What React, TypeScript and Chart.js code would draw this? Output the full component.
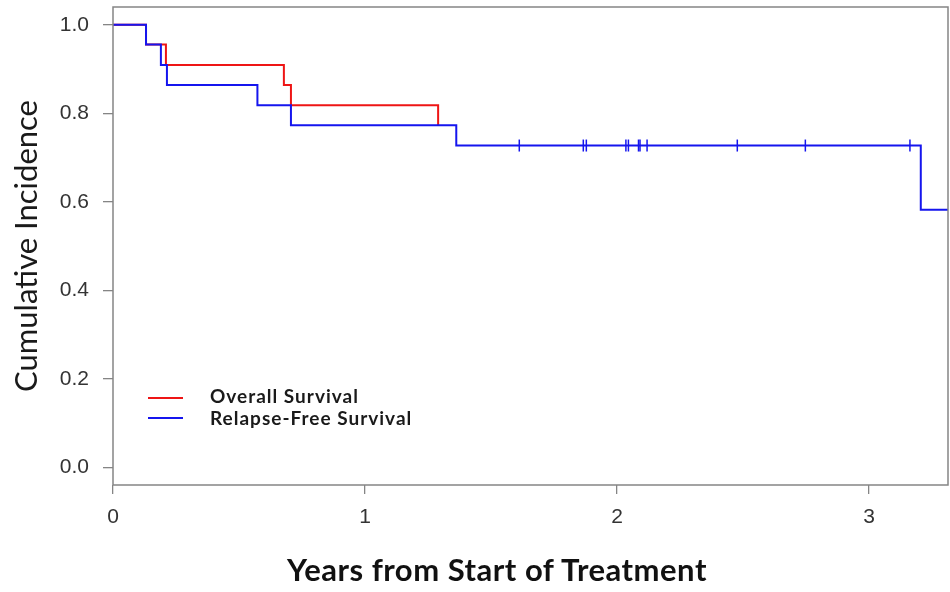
import React, { useEffect, useRef } from "react";
import { Chart, registerables } from "chart.js";

Chart.register(...registerables);

// Kaplan–Meier step points (years, survival)
const rfsTimes = [0, 0.131, 0.19, 0.214, 0.573, 0.706, 1.362, 3.205, 3.5];
const rfsValues = [1.0, 0.955, 0.909, 0.864, 0.818, 0.773, 0.727, 0.582, 0.582];

const osTimes = [0, 0.131, 0.21, 0.678, 0.706, 1.29];
const osValues = [1.0, 0.955, 0.909, 0.864, 0.818, 0.773];

// censor marks on the relapse-free curve
const censorTimes = [1.612, 1.866, 1.878, 2.035, 2.045, 2.085, 2.091, 2.119, 2.477, 2.747, 3.162];
const censorValue = 0.727;

const xTicks = [0, 1, 2, 3];
const yTicks = [0, 0.2, 0.4, 0.6, 0.8, 1.0];

const seriesNames = ["Overall Survival", "Relapse-Free Survival"];
const xTitle = "Years from Start of Treatment";
const yTitle = "Cumulative Incidence";

const RED = "#ee1515";
const BLUE = "#1515ee";
const AXIS = "#858585";

const boxPlugin = {
  id: "boxBorder",
  afterDraw(chart: any) {
    const { ctx, chartArea } = chart;
    ctx.save();
    ctx.strokeStyle = AXIS;
    ctx.lineWidth = 1.5;
    ctx.strokeRect(chartArea.left, chartArea.top, chartArea.right - chartArea.left, chartArea.bottom - chartArea.top);
    ctx.restore();
  },
};

export default function App() {
  const ref = useRef<HTMLCanvasElement | null>(null);

  useEffect(() => {
    if (!ref.current) return;
    const tickFont = { family: "'Liberation Sans', Arial, sans-serif", size: 21 };
    const chart = new Chart(ref.current, {
      type: "line",
      data: {
        datasets: [
          {
            label: "censor",
            data: censorTimes.map((t) => ({ x: t, y: censorValue })),
            showLine: false,
            pointStyle: "line",
            pointRotation: 90,
            pointRadius: 6,
            pointBorderWidth: 1.5,
            pointBorderColor: BLUE,
            borderColor: BLUE,
            order: 0,
          },
          {
            label: seriesNames[1],
            data: rfsTimes.map((t, i) => ({ x: t, y: rfsValues[i] })),
            stepped: true,
            borderColor: BLUE,
            borderWidth: 2,
            pointRadius: 0,
            fill: false,
            order: 1,
          },
          {
            label: seriesNames[0],
            data: osTimes.map((t, i) => ({ x: t, y: osValues[i] })),
            stepped: true,
            borderColor: RED,
            borderWidth: 2,
            pointRadius: 0,
            fill: false,
            order: 2,
          },
        ],
      },
      options: {
        animation: false,
        responsive: false,
        layout: { autoPadding: false, padding: { left: 0, right: 2, top: 7, bottom: 0 } },
        plugins: { legend: { display: false }, tooltip: { enabled: false } },
        scales: {
          x: {
            type: "linear",
            min: 0,
            max: 3.313,
            afterFit: (s: any) => {
              s.height = 107;
              s.paddingLeft = 0;
              s.paddingRight = 0;
            },
            afterBuildTicks: (s: any) => {
              s.ticks = xTicks.map((v) => ({ value: v }));
            },
            ticks: {
              font: tickFont,
              color: "#333",
              padding: 11,
              maxRotation: 0,
              autoSkip: false,
              callback: (v: any) => String(v),
            },
            grid: { drawOnChartArea: false, drawTicks: true, tickLength: 9, color: AXIS, lineWidth: 1.3 },
            border: { display: false },
          },
          y: {
            type: "linear",
            min: -0.04,
            max: 1.04,
            afterFit: (s: any) => {
              s.width = 113;
              s.paddingTop = 0;
              s.paddingBottom = 0;
            },
            afterBuildTicks: (s: any) => {
              s.ticks = yTicks.map((v) => ({ value: v }));
            },
            ticks: {
              font: tickFont,
              color: "#333",
              padding: 14,
              autoSkip: false,
              callback: (v: any) => Number(v).toFixed(1),
            },
            grid: { drawOnChartArea: false, drawTicks: true, tickLength: 10, color: AXIS, lineWidth: 1.3 },
            border: { display: false },
            title: {
              display: true,
              text: yTitle,
              font: { family: "Lato, sans-serif", size: 31, weight: "normal" },
              color: "#1a1a1a",
              padding: { top: 8, bottom: 0 },
            },
          },
        },
      },
      plugins: [boxPlugin],
    } as any);
    return () => chart.destroy();
  }, []);

  const legendText: React.CSSProperties = {
    position: "absolute",
    left: 210,
    fontFamily: "Lato, sans-serif",
    fontWeight: 700,
    fontSize: 19,
    letterSpacing: "1px",
    lineHeight: "19px",
    color: "#1a1a1a",
    whiteSpace: "nowrap",
  };

  return (
    <div style={{ position: "fixed", left: 0, top: 0, width: 950, height: 592, background: "#fff", overflow: "hidden" }}>
      <canvas ref={ref} width={950} height={592} style={{ display: "block" }} />
      <div style={{ position: "absolute", left: 148, top: 397, width: 35, height: 2, background: RED }} />
      <div style={{ position: "absolute", left: 148, top: 417, width: 35, height: 2, background: BLUE }} />
      <div style={{ ...legendText, top: 386 }}>{seriesNames[0]}</div>
      <div style={{ ...legendText, top: 408 }}>{seriesNames[1]}</div>
      <div
        style={{
          position: "absolute",
          left: 497,
          top: 554,
          transform: "translateX(-50%)",
          fontFamily: "Lato, sans-serif",
          fontWeight: 700,
          fontSize: 31,
          letterSpacing: "0.5px",
          lineHeight: "31px",
          color: "#111",
          whiteSpace: "nowrap",
        }}
      >
        {xTitle}
      </div>
    </div>
  );
}
